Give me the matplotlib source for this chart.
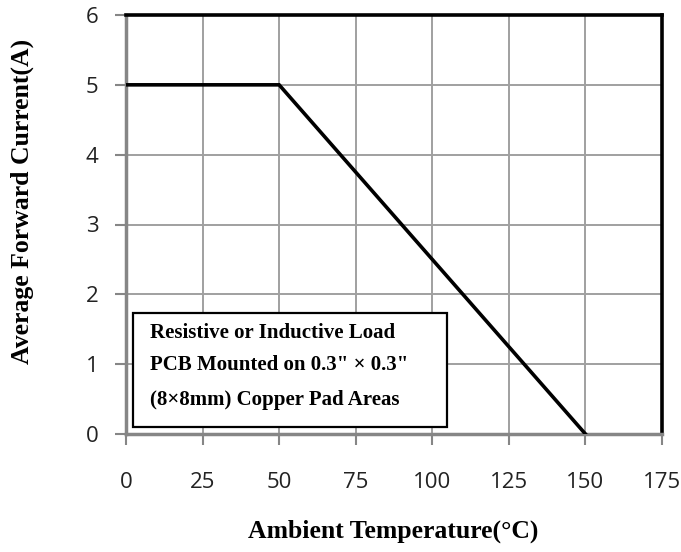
import matplotlib
matplotlib.use("Agg")
import matplotlib.pyplot as plt
from matplotlib.patches import Rectangle

# derating curve
temp = [0, 50, 150]
current = [5, 5, 0]

x_ticks = [0, 25, 50, 75, 100, 125, 150, 175]
y_ticks = [0, 1, 2, 3, 4, 5, 6]

note_lines = [
    "Resistive or Inductive Load",
    "PCB Mounted on 0.3\" \u00d7 0.3\"",
    "(8\u00d78mm) Copper Pad Areas",
]

SERIF = ["Liberation Serif", "DejaVu Serif", "DejaVu Sans"]
GRID = "#a0a0a0"
AXIS = "#868686"

fig = plt.figure(figsize=(6.81, 5.52), dpi=100)
ax = fig.add_axes([126 / 681, 1 - 434 / 552, 536 / 681, 419 / 552])

ax.plot(temp, current, color="black", lw=2.6, solid_joinstyle="miter", zorder=3)

ax.set_xlim(0, 175)
ax.set_ylim(0, 6)
ax.set_xticks(x_ticks)
ax.set_yticks(y_ticks)
ax.grid(True, color=GRID, lw=1.4)
ax.set_axisbelow(True)

ax.tick_params(axis="both", direction="out", length=8, width=1.5, color=AXIS,
               labelsize=16)
ax.tick_params(axis="x", pad=19)
ax.tick_params(axis="y", pad=12)
for lab in ax.get_xticklabels() + ax.get_yticklabels():
    lab.set_fontfamily("Open Sans")
    lab.set_color("#222222")

for side in ("left", "bottom"):
    ax.spines[side].set_color(AXIS)
    ax.spines[side].set_linewidth(2.5)
for side in ("top", "right"):
    ax.spines[side].set_color("black")
    ax.spines[side].set_linewidth(2.6)

fig.text(393 / 681, 1 - 531 / 552, "Ambient Temperature(\u00b0C)", family=SERIF,
         fontweight="bold", fontsize=18.5, ha="center", va="center")
fig.text(22 / 681, 1 - 201 / 552, "Average Forward Current(A)", family=SERIF,
         fontweight="bold", fontsize=18.5, ha="center", va="center", rotation=90)

# note box
ax.add_patch(Rectangle((0.013, 0.017), 0.586, 0.272, transform=ax.transAxes,
                       facecolor="white", edgecolor="black", lw=1.6, zorder=4))
for line, yy in zip(note_lines, [0.241, 0.165, 0.081]):
    ax.text(0.045, yy, line, transform=ax.transAxes, family=SERIF,
            fontweight="bold", fontsize=15, va="center", ha="left", zorder=5)

fig.savefig("out.png", dpi=100)
